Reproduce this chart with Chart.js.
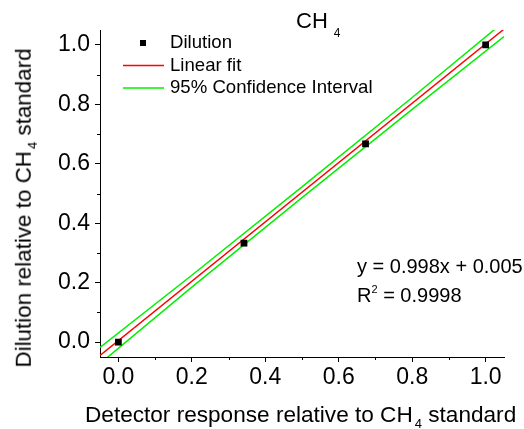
<!DOCTYPE html>
<html>
  <head>
    <meta charset="UTF-8" />
    <title>CH4 calibration</title>
    <script src="https://cdn.jsdelivr.net/npm/chart.js"></script>
    <style>
      body {
        margin: 0;
        background: #fff;
      }

      #wrap {
        position: relative;
        width: 524px;
        height: 429px;
        font-family: Arial, "Liberation Sans", sans-serif;
        color: #000;
      }

      .txt {
        position: absolute;
        white-space: nowrap;
        line-height: 1;
      }

      .sub {
        position: relative;
      }
    </style>
  </head>

  <body>
    <div id="wrap">
      <canvas id="chart" width="524" height="429"></canvas>

      <!-- Title and axis titles -->
      <div class="txt" style="left: 296px; top: 10px; font-size: 22px">
        CH<span class="sub" style="font-size: 12px; top: 9px; margin-left: 6px">4</span>
      </div>
      <div class="txt" style="left: 85px; top: 404px; font-size: 22.6px">
        Detector response relative to CH<span class="sub" style="font-size: 13px; top: 6px; margin-left: 2px">4</span> standard
      </div>
      <div
        class="txt"
        style="left: 24px; top: 208px; font-size: 22.4px; transform: translate(-50%, -50%) rotate(-90deg)"
      >
        Dilution relative to CH<span class="sub" style="font-size: 13px; top: 6px; margin-left: 2px">4</span> standard
      </div>

      <!-- Fit annotation -->
      <div class="txt" style="left: 357px; top: 256px; font-size: 20px">
        y = 0.998x + 0.005
      </div>
      <div class="txt" style="left: 357px; top: 285px; font-size: 20px">
        R<span class="sub" style="font-size: 11px; top: -9px">2</span> = 0.9998
      </div>
    </div>

    <script>
      // Tick values
      const xTicks = [0, 0.2, 0.4, 0.6, 0.8, 1.0];
      const yTicks = [0, 0.2, 0.4, 0.6, 0.8, 1.0];
      const minorTicks = [0.1, 0.3, 0.5, 0.7, 0.9];

      // Measured dilutions
      const dilutionX = [0, 0.342, 0.673, 1.0];
      const dilutionY = [0, 0.333, 0.667, 1.0];

      // Linear fit y = 0.998x + 0.005
      const fitX = [-0.05, 1.05];
      const fitY = [-0.045, 1.053];

      // 95% confidence band
      const bandX = [-0.05, 0.2, 0.5, 0.8, 1.05];
      const upperY = [-0.018, 0.225, 0.522, 0.823, 1.078];
      const lowerY = [-0.072, 0.185, 0.486, 0.783, 1.028];

      const toPoints = (xs, ys) => xs.map((x, i) => ({ x: x, y: ys[i] }));

      // Legend drawn inside the plot area, top left
      const legendPlugin = {
        id: "insideLegend",
        afterDraw(chart) {
          const ctx = chart.ctx;
          const a = chart.chartArea;
          const ds = chart.data.datasets;
          const rows = [ds[0], ds[1], ds[2]];
          ctx.save();
          ctx.font = "18.6px Arial, 'Liberation Sans', sans-serif";
          ctx.fillStyle = "#000";
          ctx.textBaseline = "middle";
          rows.forEach((d, i) => {
            const y = a.top + 13 + i * 22.5;
            if (d.showLine === false) {
              ctx.fillStyle = d.backgroundColor;
              ctx.fillRect(a.left + 40, y - 3, 6, 6);
            } else {
              ctx.strokeStyle = d.borderColor;
              ctx.lineWidth = 1.5;
              ctx.beginPath();
              ctx.moveTo(a.left + 23, y);
              ctx.lineTo(a.left + 64, y);
              ctx.stroke();
            }
            ctx.fillStyle = "#000";
            ctx.fillText(d.label, a.left + 70, y);
          });
          ctx.restore();
        },
      };

      // Minor ticks between the labelled ones
      const minorTickPlugin = {
        id: "minorTicks",
        afterDraw(chart) {
          const ctx = chart.ctx;
          const xs = chart.scales.x;
          const ys = chart.scales.y;
          const a = chart.chartArea;
          ctx.save();
          ctx.strokeStyle = "#000";
          ctx.lineWidth = 1;
          ctx.beginPath();
          minorTicks.forEach((v) => {
            const px = Math.round(xs.getPixelForValue(v)) + 0.5;
            ctx.moveTo(px, a.bottom);
            ctx.lineTo(px, a.bottom + 3);
            const py = Math.round(ys.getPixelForValue(v)) + 0.5;
            ctx.moveTo(a.left, py);
            ctx.lineTo(a.left - 3, py);
          });
          ctx.stroke();
          ctx.restore();
        },
      };

      const tickFont = { family: "Arial, 'Liberation Sans', sans-serif", size: 23 };

      new Chart(document.getElementById("chart"), {
        type: "scatter",
        data: {
          datasets: [
            {
              label: "Dilution",
              data: toPoints(dilutionX, dilutionY),
              showLine: false,
              pointStyle: "rect",
              pointRadius: 4.8,
              backgroundColor: "#000",
              borderColor: "#000",
              borderWidth: 0,
              order: 0,
            },
            {
              label: "Linear fit",
              data: toPoints(fitX, fitY),
              showLine: true,
              pointRadius: 0,
              borderColor: "#ff0000",
              borderWidth: 1.5,
              order: 1,
            },
            {
              label: "95% Confidence Interval",
              data: toPoints(bandX, upperY),
              showLine: true,
              pointRadius: 0,
              borderColor: "#00f000",
              borderWidth: 1.5,
              order: 2,
            },
            {
              label: "lower",
              data: toPoints(bandX, lowerY),
              showLine: true,
              pointRadius: 0,
              borderColor: "#00f000",
              borderWidth: 1.5,
              order: 2,
            },
          ],
        },
        options: {
          responsive: false,
          devicePixelRatio: 1,
          animation: false,
          layout: { padding: { left: 0, top: 30, right: 20, bottom: 42 } },
          plugins: {
            legend: { display: false },
            tooltip: { enabled: false },
          },
          scales: {
            x: {
              type: "linear",
              min: -0.05,
              max: 1.05,
              afterBuildTicks: (scale) => {
                scale.ticks = xTicks.map((v) => ({ value: v }));
              },
              afterFit: (scale) => {
                scale.height = 30;
              },
              ticks: {
                font: tickFont,
                color: "#000",
                padding: 2,
                maxRotation: 0,
                autoSkip: false,
                callback: (v) => Number(v).toFixed(1),
              },
              grid: {
                drawOnChartArea: false,
                drawTicks: true,
                tickLength: 5,
                color: "#000",
              },
              border: { display: true, color: "#000", width: 1 },
            },
            y: {
              type: "linear",
              min: -0.05,
              max: 1.05,
              afterBuildTicks: (scale) => {
                scale.ticks = yTicks.map((v) => ({ value: v }));
              },
              afterFit: (scale) => {
                scale.width = 100;
              },
              ticks: {
                font: tickFont,
                color: "#000",
                padding: 5,
                autoSkip: false,
                callback: (v) => Number(v).toFixed(1),
              },
              grid: {
                drawOnChartArea: false,
                drawTicks: true,
                tickLength: 5,
                color: "#000",
              },
              border: { display: true, color: "#000", width: 1 },
            },
          },
        },
        plugins: [legendPlugin, minorTickPlugin],
      });
    </script>
  </body>
</html>
